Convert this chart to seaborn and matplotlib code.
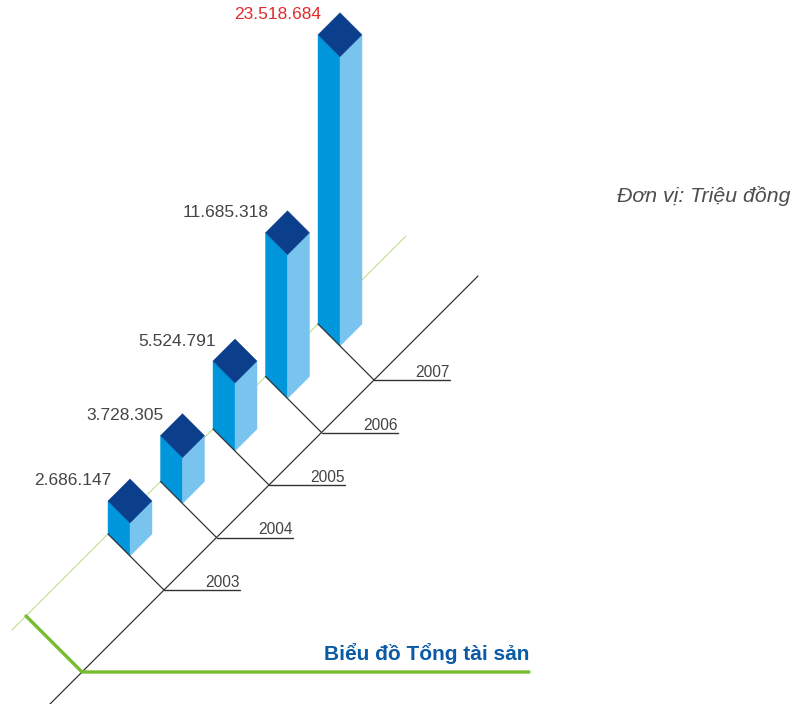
import matplotlib
matplotlib.use("Agg")
import matplotlib.pyplot as plt
from matplotlib.patches import Polygon
import seaborn as sns
import pandas as pd

# ---- data ----
years = ["2003", "2004", "2005", "2006", "2007"]
total_assets = [2686147, 3728305, 5524791, 11685318, 23518684]
highlight_year = "2007"
title_text = "Biểu đồ Tổng tài sản"
unit_text = "Đơn vị: Triệu đồng"

df = pd.DataFrame({"year": years, "value": total_assets})

sns.set_theme(style="white")
plt.rcParams["font.family"] = ["Liberation Sans", "DejaVu Sans"]

W, H = 796, 704
fig = plt.figure(figsize=(W / 100, H / 100), dpi=100)
ax = fig.add_axes([0, 0, 1, 1])
ax.set_xlim(0, W)
ax.set_ylim(H, 0)
ax.axis("off")

# oblique projection: t along the year axis (up-right), d depth (up-left), h height
X0, Y0 = 164, 590          # screen position of the first year node
STEP = 52.5                # pixels per year along the axis
PX_PER_UNIT = 12.3e-6      # bar height scale
D_FRONT, SIDE = 34, 22


def proj(t, d, h=0.0):
    return (X0 + t - d, Y0 - t - d - h)


C_TOP, C_LEFT, C_RIGHT = "#0b3f8b", "#0096dc", "#78c4ef"
C_LINE = "#333333"

# background axis lines
xs, ys = zip(proj(-96, D_FRONT + SIDE), proj(298, D_FRONT + SIDE))
ax.plot(xs, ys, color="#c4e1a0", lw=0.9, zorder=1)
xs, ys = zip(proj(-125, 0), proj(314, 0))
ax.plot(xs, ys, color=C_LINE, lw=0.9, zorder=2)

# thick green frame
corner = proj(-82, 0)
top_corner = proj(-82, D_FRONT + SIDE)
ax.plot([top_corner[0], corner[0], 529], [top_corner[1], corner[1], corner[1]],
        color="#76bc2f", lw=2.4, solid_joinstyle="miter", zorder=2)

for i in range(len(df) - 1, -1, -1):
    yr = df["year"][i]
    val = df["value"][i]
    t0 = i * STEP
    hpx = val * PX_PER_UNIT
    F = (t0, D_FRONT)
    L = (t0, D_FRONT + SIDE)
    R = (t0 + SIDE, D_FRONT)
    B = (t0 + SIDE, D_FRONT + SIDE)
    left_face = [proj(*L), proj(*F), proj(*F, hpx), proj(*L, hpx)]
    right_face = [proj(*F), proj(*R), proj(*R, hpx), proj(*F, hpx)]
    top_face = [proj(*F, hpx), proj(*R, hpx), proj(*B, hpx), proj(*L, hpx)]
    ax.add_patch(Polygon(left_face, closed=True, fc=C_LEFT, ec=C_LEFT, lw=0.3, zorder=5))
    ax.add_patch(Polygon(right_face, closed=True, fc=C_RIGHT, ec=C_RIGHT, lw=0.3, zorder=5))
    ax.add_patch(Polygon(top_face, closed=True, fc=C_TOP, ec=C_TOP, lw=0.3, zorder=6))

    node = proj(t0, 0)
    lp = proj(*L)
    ax.plot([node[0], lp[0]], [node[1], lp[1]], color=C_LINE, lw=0.9, zorder=7)
    # year tick line + label
    ax.plot([node[0], node[0] + 76], [node[1], node[1]], color=C_LINE, lw=1.0, zorder=3)
    ax.text(node[0] + 76, node[1] - 3, yr, ha="right", va="baseline",
            fontsize=11.2, color="#444444", zorder=8)

    # value label
    tx, ty = proj(*B, hpx)
    label = f"{val:,}".replace(",", ".")
    ax.text(tx - 19, ty + 2, label, ha="right", va="center", fontsize=12.5,
            color="#e32b2b" if yr == highlight_year else "#454545", zorder=8)

ax.text(529, 653, title_text, ha="right", va="center", fontsize=15,
        fontweight="bold", color="#0a5aa5")
ax.text(617, 196, unit_text, ha="left", va="center", fontsize=15.3,
        style="italic", color="#4d4d4d")

fig.savefig("out.png", dpi=100)
